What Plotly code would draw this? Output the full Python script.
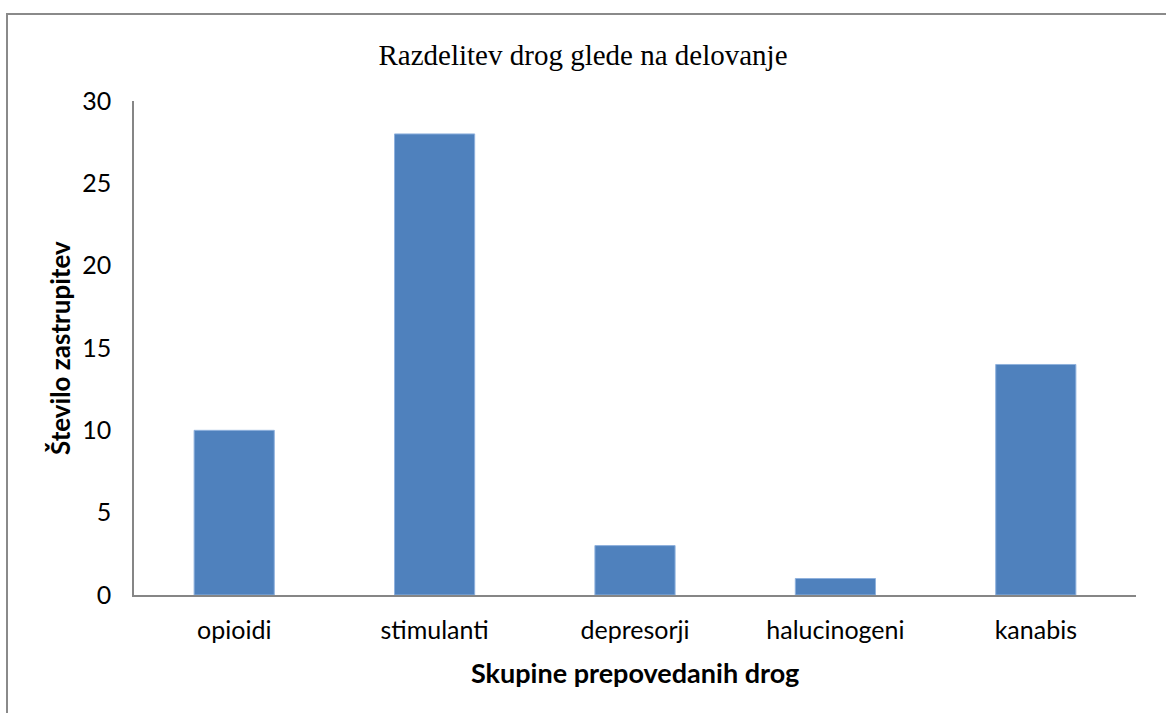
import plotly.graph_objects as go

# Drug groups and number of poisonings
categories = ["opioidi", "stimulanti", "depresorji", "halucinogeni", "kanabis"]
counts = [10, 28, 3, 1, 14]
y_ticks = [0, 5, 10, 15, 20, 25, 30]

W, H = 1166, 713
L, R, T, B = 134, 30, 101, 118
pw, ph = W - L - R, H - T - B

fig = go.Figure(
    go.Bar(
        x=categories,
        y=counts,
        marker=dict(color="#4F81BD", line=dict(color="#8FB1DD", width=1)),
        width=0.4,
    )
)

sans = "Lato, Open Sans, sans-serif"

fig.update_layout(
    width=W,
    height=H,
    margin=dict(l=L, r=R, t=T, b=B),
    paper_bgcolor="white",
    plot_bgcolor="white",
    showlegend=False,
    title=dict(
        text="Razdelitev drog glede na delovanje",
        font=dict(family="Liberation Serif, Times New Roman, serif", size=29, color="black"),
        x=0.5,
        xref="container",
        xanchor="center",
        y=1 - 55 / H,
        yref="container",
        yanchor="middle",
    ),
    xaxis=dict(
        showline=True,
        linecolor="#868686",
        linewidth=1.5,
        ticks="",
        showgrid=False,
        tickfont=dict(family=sans, size=25, color="black"),
        ticklabelstandoff=12,
    ),
    yaxis=dict(
        range=[0, 30],
        tickvals=y_ticks,
        showline=True,
        linecolor="#868686",
        linewidth=1.5,
        ticks="",
        showgrid=False,
        zeroline=False,
        tickfont=dict(family=sans, size=25, color="black"),
        ticklabelstandoff=16,
    ),
    shapes=[
        dict(
            type="rect",
            xref="paper",
            yref="paper",
            x0=(7 - L) / pw,
            x1=(W + 20 - L) / pw,
            y0=-(H + 20 - (T + ph)) / ph,
            y1=(T + ph - 14) / ph,
            line=dict(color="#8a8a8a", width=2),
            fillcolor="rgba(0,0,0,0)",
            layer="below",
        )
    ],
    annotations=[
        dict(
            text="<b>Število zastrupitev</b>",
            xref="paper",
            yref="paper",
            x=(60 - L) / pw,
            y=0.5,
            textangle=-90,
            showarrow=False,
            font=dict(family=sans, size=26, color="black"),
            xanchor="center",
            yanchor="middle",
        ),
        dict(
            text="<b>Skupine prepovedanih drog</b>",
            xref="paper",
            yref="paper",
            x=0.5,
            y=-(672 - (T + ph)) / ph,
            showarrow=False,
            font=dict(family=sans, size=27, color="black"),
            xanchor="center",
            yanchor="middle",
        ),
    ],
)

fig.write_html("out.html")
